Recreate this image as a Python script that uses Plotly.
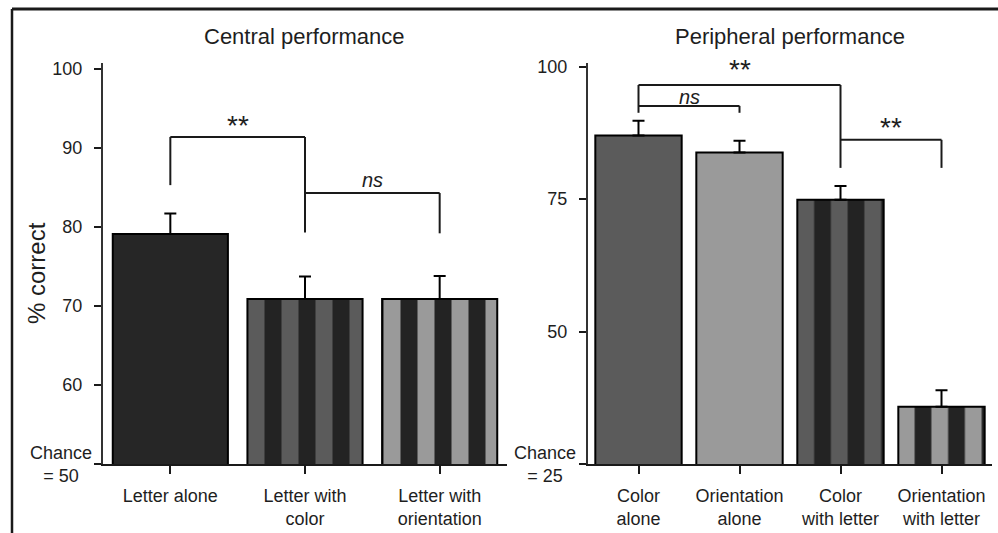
import plotly.graph_objects as go

W, H = 998, 533
FONT = "Liberation Sans, Arial, sans-serif"
TXT = "#1e1e1e"

# ---------------- data ----------------
central_labels = ["Letter alone", "Letter with<br>color", "Letter with<br>orientation"]
central_values = [79.1, 70.9, 70.9]
central_errors = [2.6, 2.85, 2.9]

periph_labels = ["Color<br>alone", "Orientation<br>alone", "Color<br>with letter", "Orientation<br>with letter"]
periph_values = [87.0, 83.8, 74.9, 35.8]
periph_errors = [2.8, 2.2, 2.6, 3.1]

central_ticks = [50, 60, 70, 80, 90, 100]
central_ticktext = ["", "60", "70", "80", "90", "100"]
periph_ticks = [25, 50, 75, 100]
periph_ticktext = ["", "50", "75", "100"]

# significance brackets: (from bar, to bar, top, left-foot, right-foot, label, label y)
central_brackets = [
    (0, 1, 91.4, 85.3, 79.3, "**", 92.9),
    (1, 2, 84.3, None, 79.2, "ns", 86.0),
]
periph_brackets = [
    (0, 2, 96.55, 91.3, 80.9, "**", 99.5),
    (0, 1, 92.6, None, 91.3, "ns", 94.3),
    (2, 3, 86.2, None, 80.9, "**", 88.6),
]

# ---------------- styles ----------------
DARK = "#262626"
MID = "#5b5b5b"
LIGHT = "#9a9a9a"
STRIPE_BG = "#232323"

central_fill = [DARK, STRIPE_BG, STRIPE_BG]
central_shape = ["", "|", "|"]
central_fg = [DARK, MID, LIGHT]

periph_fill = [MID, LIGHT, STRIPE_BG, STRIPE_BG]
periph_shape = ["", "", "|", "|"]
periph_fg = [MID, LIGHT, MID, LIGHT]


def px_x(p):
    return p / W


def px_y(p):
    return 1 - p / H


fig = go.Figure()


def add_panel(vals, errs, fills, pshapes, fgs, stripe, xa, ya):
    for i, v in enumerate(vals):
        marker = dict(color=fills[i], line=dict(color="black", width=2))
        if pshapes[i]:
            marker["pattern"] = dict(shape=pshapes[i], fgcolor=fgs[i], bgcolor=fills[i],
                                     size=stripe, solidity=0.5, fillmode="replace",
                                     fgopacity=1)
        fig.add_trace(go.Bar(
            x=[i], y=[v], xaxis=xa, yaxis=ya, marker=marker,
            error_y=dict(type="data", array=[errs[i]], arrayminus=[0],
                         symmetric=False, color="black", thickness=2, width=6),
            width=0.855, hoverinfo="skip",
        ))


add_panel(central_values, central_errors, central_fill, central_shape,
          central_fg, 34, "x", "y")
add_panel(periph_values, periph_errors, periph_fill, periph_shape,
          periph_fg, 33.5, "x2", "y2")

shapes = []
annotations = []


def add_brackets(brs, xref, yref):
    for a, b, top, lf, rf, lab, ly in brs:
        kw = dict(type="line", xref=xref, yref=yref,
                  line=dict(color="#1a1a1a", width=2))
        shapes.append(dict(x0=a, x1=b, y0=top, y1=top, **kw))
        if lf is not None:
            shapes.append(dict(x0=a, x1=a, y0=lf, y1=top, **kw))
        if rf is not None:
            shapes.append(dict(x0=b, x1=b, y0=rf, y1=top, **kw))
        italic = lab == "ns"
        annotations.append(dict(
            x=(a + b) / 2, y=ly, xref=xref, yref=yref,
            text=lab, showarrow=False, xanchor="center", yanchor="middle",
            font=dict(family=FONT, size=20 if italic else 28, color=TXT,
                      style="italic" if italic else "normal"),
        ))


add_brackets(central_brackets, "x", "y")
add_brackets(periph_brackets, "x2", "y2")

# frame lines (top and left)
shapes.append(dict(type="line", xref="paper", yref="paper",
                   x0=px_x(12), x1=1.0, y0=px_y(9), y1=px_y(9),
                   line=dict(color="#1a1a1a", width=3)))
shapes.append(dict(type="line", xref="paper", yref="paper",
                   x0=px_x(12), x1=px_x(12), y0=0, y1=px_y(9),
                   line=dict(color="#1a1a1a", width=2.5)))

# titles
annotations.append(dict(x=px_x(304), y=px_y(37), xref="paper", yref="paper",
                        text="Central performance", showarrow=False,
                        xanchor="center", yanchor="middle",
                        font=dict(family=FONT, size=22, color=TXT)))
annotations.append(dict(x=px_x(790), y=px_y(37), xref="paper", yref="paper",
                        text="Peripheral performance", showarrow=False,
                        xanchor="center", yanchor="middle",
                        font=dict(family=FONT, size=22, color=TXT)))
annotations.append(dict(x=px_x(36), y=px_y(273), xref="paper", yref="paper",
                        text="% correct", showarrow=False, textangle=-90,
                        xanchor="center", yanchor="middle",
                        font=dict(family=FONT, size=24, color=TXT)))
# chance labels
annotations.append(dict(x=px_x(61), y=50, xref="paper", yref="y",
                        text="Chance<br>= 50", showarrow=False, align="center",
                        xanchor="center", yanchor="middle",
                        font=dict(family=FONT, size=18, color=TXT)))
annotations.append(dict(x=px_x(545), y=25, xref="paper", yref="y2",
                        text="Chance<br>= 25", showarrow=False, align="center",
                        xanchor="center", yanchor="middle",
                        font=dict(family=FONT, size=18, color=TXT)))

tickfont = dict(family=FONT, size=18, color=TXT)
xcommon = dict(showline=True, linecolor="#1a1a1a", linewidth=2, ticks="outside",
               ticklen=8, tickwidth=2, tickcolor="#1a1a1a", showgrid=False,
               zeroline=False, tickfont=tickfont, ticklabelstandoff=6, fixedrange=True)
ycommon = dict(showline=True, linecolor="#333333", linewidth=2, ticks="outside",
               ticklen=7, tickwidth=2, tickcolor="#1a1a1a", showgrid=False,
               zeroline=False, tickfont=tickfont, ticklabelstandoff=8, fixedrange=True)

fig.update_layout(
    width=W, height=H,
    margin=dict(l=0, r=0, t=0, b=0, autoexpand=False),
    paper_bgcolor="white", plot_bgcolor="white",
    showlegend=False, barmode="overlay",
    shapes=shapes, annotations=annotations,
    xaxis=dict(domain=[px_x(103), px_x(507)], range=[-0.5, 2.5], anchor="y",
               tickvals=list(range(len(central_labels))), ticktext=central_labels, **xcommon),
    yaxis=dict(domain=[px_y(464), px_y(63)], range=[50, 100.76], anchor="x",
               tickvals=central_ticks, ticktext=central_ticktext, **ycommon),
    xaxis2=dict(domain=[px_x(588), px_x(992)], range=[-0.5, 3.5], anchor="y2",
                tickvals=list(range(len(periph_labels))), ticktext=periph_labels, **xcommon),
    yaxis2=dict(domain=[px_y(464), px_y(63)], range=[25, 100.7], anchor="x2",
                tickvals=periph_ticks, ticktext=periph_ticktext, **ycommon),
)

fig.write_html("out.html")
